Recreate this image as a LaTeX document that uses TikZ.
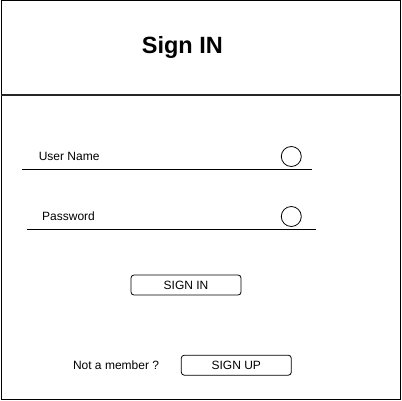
\documentclass[tikz,border=0pt]{standalone}
\usepackage{fontspec}
\setmainfont{Liberation Sans}
\usepackage{tikz}
\usetikzlibrary{positioning}
\tikzstyle{frame} = [draw=black, line width=1pt]
\tikzstyle{divider} = [draw=black!85, line width=1.6pt]
\tikzstyle{field} = [draw=black, line width=1pt]
\tikzstyle{title} = [inner sep=0pt, font=\fontsize{23.5}{28}\selectfont\bfseries]
\tikzstyle{fieldtext} = [inner sep=0pt, anchor=base west, font=\fontsize{12}{14}\selectfont]
\tikzstyle{knob} = [circle, draw=black, line width=0.8pt, minimum size=20pt, inner sep=0pt]
\tikzstyle{button} = [rectangle, rounded corners=3pt, draw=black, line width=0.8pt, minimum width=110pt, minimum height=20pt, text centered, font=\fontsize{12}{14}\selectfont]
\begin{document}
\begin{tikzpicture}[x=1pt, y=-1pt]
		\useasboundingbox (0,0) rectangle (402,401);
		% cadre et en-tete
		\draw [frame] (1,1) rectangle (400.5,399.5);
		\draw [divider] (1,95) -- (400.5,95);
		\node (head) [title, anchor=base] at (182.3,53.5) {Sign IN};
		
		\node (user) [fieldtext] at (38.6,160.7) {User Name};
		\node (pass) [fieldtext] at (42,220.7) {Password};
		\node (userknob) [knob] at (291.3,156.5) {};
		\node (passknob) [knob] at (291.3,216.5) {};
		\draw [field] (22,170) -- (311.5,170);
		\draw [field] (26.5,229.5) -- (316,229.5);
		
		\node (signin) [button] at (186,285) {SIGN IN};
		\node (member) [fieldtext] at (72.8,369) {Not a member ?};
		\node (signup) [button] at (236.3,365.2) {SIGN UP};
		
	\end{tikzpicture}
\end{document}
